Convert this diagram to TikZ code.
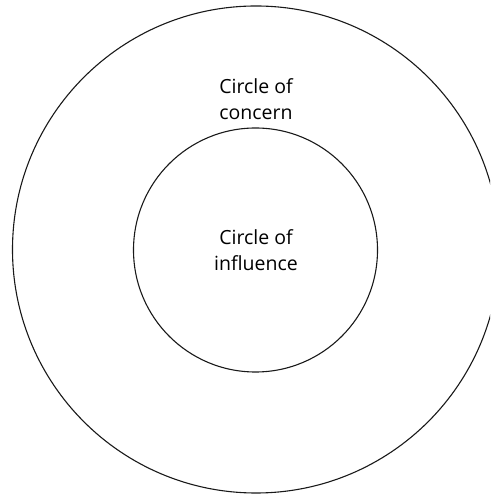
\documentclass[tikz,border=0pt]{standalone}
\usepackage{fontspec}
\setmainfont{Open Sans}
\begin{document}
\begin{tikzpicture}[x=1pt,y=1pt,
  ring/.style={draw=black!90, line width=1.1pt},
  caption/.style={align=center, font=\fontsize{19.5}{26}\selectfont, text=black}]
  \useasboundingbox (0,0) rectangle (490,494);
  \clip (0,0) rectangle (490,494);
  % concern: outer circle
  \node[ring, circle, minimum size=487pt, inner sep=0pt] (concern) at (256,244.5) {};
  % influence: inner circle
  \node[ring, circle, minimum size=244pt, inner sep=0pt] (influence) at (255.5,244) {};
  \node[caption] (concernlbl) at (256,395) {Circle of\\concern};
  \node[caption] (influencelbl) at (256,244) {Circle of\\influence};
\end{tikzpicture}
\end{document}
